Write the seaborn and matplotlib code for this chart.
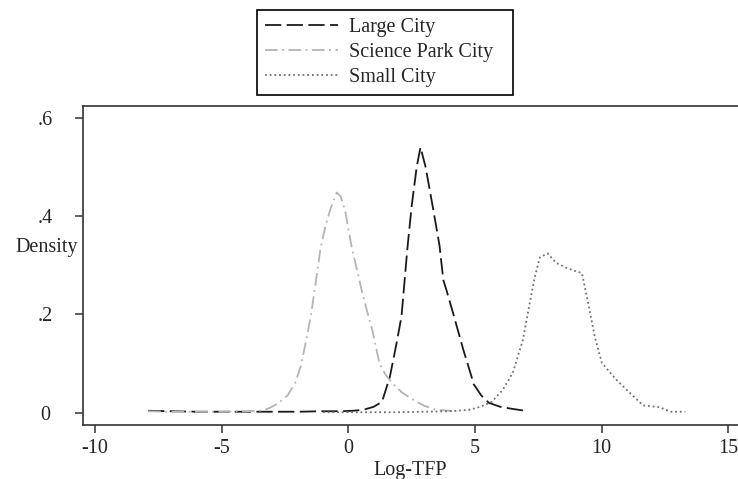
import pandas as pd
import matplotlib
matplotlib.use("Agg")
import matplotlib.pyplot as plt
import seaborn as sns

# --- curves (Log-TFP, density) ---
large_x = [-7.9, -7.0, -6.0, -5.0, -4.0, -3.0, -2.0, -1.0, -0.3, 0.2, 0.6, 1.0, 1.33, 1.64,
           1.9, 2.1, 2.33, 2.5, 2.7, 2.85, 3.05, 3.33, 3.6, 3.75, 3.9, 4.15, 4.54, 4.96,
           5.25, 5.55, 6.0, 6.45, 7.1]
large_y = [0.004, 0.003, 0.002, 0.002, 0.002, 0.002, 0.002, 0.003, 0.003, 0.004, 0.006, 0.012,
           0.022, 0.073, 0.14, 0.196, 0.333, 0.42, 0.50, 0.54, 0.50, 0.42, 0.34, 0.27, 0.245,
           0.2, 0.128, 0.057, 0.035, 0.02, 0.012, 0.008, 0.003]

park_x = [-7.9, -7.0, -6.0, -5.0, -4.0, -3.5, -3.17, -2.8, -2.4, -2.1, -1.88, -1.65, -1.48,
          -1.3, -1.1, -0.9, -0.7, -0.46, -0.3, -0.12, 0.05, 0.16, 0.35, 0.55, 0.75, 0.95,
          1.23, 1.5, 1.74, 2.1, 2.54, 3.0, 3.47, 4.0, 4.3]
park_y = [0.003, 0.002, 0.002, 0.002, 0.003, 0.004, 0.008, 0.018, 0.035, 0.06, 0.094, 0.15,
          0.196, 0.26, 0.333, 0.38, 0.415, 0.448, 0.44, 0.41, 0.36, 0.33, 0.29, 0.244, 0.205,
          0.168, 0.10, 0.075, 0.06, 0.042, 0.027, 0.014, 0.006, 0.004, 0.004]

small_x = [-1.0, 0.0, 1.0, 2.0, 3.0, 4.0, 4.79, 5.2, 5.66, 6.09, 6.49, 6.89, 7.16, 7.36, 7.56,
           7.87, 8.2, 8.6, 8.86, 9.22, 9.42, 9.73, 10.01, 10.6, 11.12, 11.63, 12.3, 12.7, 13.3]
small_y = [0.001, 0.001, 0.001, 0.001, 0.002, 0.003, 0.006, 0.012, 0.022, 0.046, 0.081, 0.148,
           0.223, 0.276, 0.316, 0.324, 0.305, 0.295, 0.29, 0.284, 0.235, 0.154, 0.101, 0.066,
           0.04, 0.015, 0.011, 0.002, 0.002]

series = ["Large City", "Science Park City", "Small City"]
xticks = [-10, -5, 0, 5, 10, 15]
yticks = [0, 0.2, 0.4, 0.6]
ytick_labels = ["0", ".2", ".4", ".6"]

sns.set_style("ticks")
plt.rcParams["font.family"] = ["Liberation Serif", "DejaVu Serif"]
plt.rcParams["axes.unicode_minus"] = False

fig = plt.figure(figsize=(7.38, 4.79), dpi=100)
ax = fig.add_axes([83 / 738, 54 / 479, 655 / 738, 319 / 479])

styles = {
    "Large City": dict(color="#1a1a1a", linestyle=(0, (9, 3)), linewidth=1.3),
    "Science Park City": dict(color="#b4b4b4", linestyle=(0, (7, 2.5, 1, 2.5)), linewidth=1.3),
    "Small City": dict(color="#707070", linestyle=(0, (1, 1.6)), linewidth=1.3),
}
data = {
    "Large City": (large_x, large_y),
    "Science Park City": (park_x, park_y),
    "Small City": (small_x, small_y),
}
for name in series:
    xs, ys = data[name]
    df = pd.DataFrame({"x": xs, "y": ys})
    sns.lineplot(data=df, x="x", y="y", ax=ax, sort=False, estimator=None,
                 label=name, **styles[name])

ax.set_xlim(-10.47, 15.38)
ax.set_ylim(-0.025, 0.624)
ax.set_xticks(xticks)
ax.set_xticklabels([str(t) for t in xticks])
ax.set_yticks(yticks)
ax.set_yticklabels(ytick_labels)
ax.tick_params(axis="both", labelsize=14.5, length=6, width=1.1, color="#333333")
ax.tick_params(axis="x", pad=4)
ax.tick_params(axis="y", pad=21)
for lab in ax.get_yticklabels():
    lab.set_horizontalalignment("center")

ax.set_xlabel("Log-TFP", fontsize=14.5, labelpad=2)
ax.set_ylabel("Density", fontsize=14.5, rotation=0, ha="right", va="center")
ax.yaxis.set_label_coords(-0.008, 0.555)

for side in ["left", "bottom", "top"]:
    ax.spines[side].set_linewidth(1.2)
    ax.spines[side].set_color("#333333")
ax.spines["right"].set_visible(False)

ax.get_legend().remove()
handles, labels = ax.get_legend_handles_labels()
leg = fig.legend(handles, labels, loc="upper left",
                 bbox_to_anchor=(257 / 738, 1 - 99 / 479, 256 / 738, 89 / 479),
                 mode="expand", borderaxespad=0, fontsize=14.5, frameon=True,
                 fancybox=False, edgecolor="black", framealpha=1,
                 borderpad=0.4, labelspacing=0.3, handlelength=3.6, handletextpad=0.55)
leg.get_frame().set_linewidth(1.2)

fig.savefig("out.png", dpi=100)
